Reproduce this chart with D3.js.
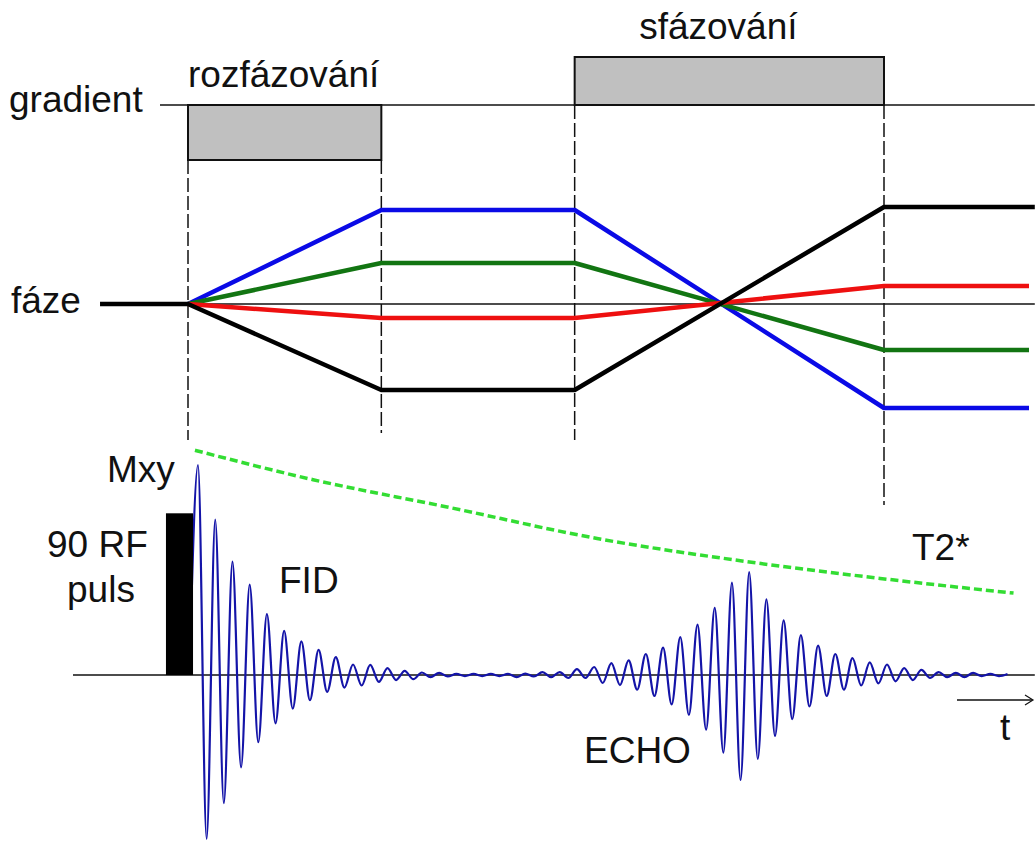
<!DOCTYPE html>
<html>
<head>
<meta charset="utf-8">
<script src="https://cdn.jsdelivr.net/npm/d3@7"></script>
<style>
  body { margin: 0; background: #fff; }
  text { font-family: "Liberation Sans", Arial, sans-serif; font-size: 37px; fill: #111; }
</style>
</head>
<body>
<svg id="chart" width="1035" height="850"></svg>
<script>
// gradient lobes (time units, amplitude)
const gradStart = [0, 20];
const gradEnd = [10, 36];
const gradAmp = [-55, 48];
const gradLabels = ["rozfázování", "sfázování"];

// phase of four spins at the switching times
const phaseTimes = [0, 10, 20, 36, 43.5];
const phaseBlue = [0, 94, 94, -104, -104];
const phaseGreen = [0, 41, 41, -46, -46];
const phaseRed = [0, -14, -14, 18, 18];
const phaseBlackTimes = [-4.55, 0, 10, 20, 36, 43.8];
const phaseBlack = [0, 0, -86, -86, 97, 97];

// signal extrema (FID + echo), evenly spaced samples
const signalStart = 0.072, signalEnd = 42.39;
const signalValues = [
  0, 100, -78, 74, -61, 54, -44, 43, -32, 29, -23, 21, -16, 16, -12, 12, -8, 8.5, -6, 5,
  -5, 4.8, -3.3, 3.3, -2.4, 2, -2, 1.2, -1, 1, -0.7, 0.5, -0.5, 0.5, -0.5, 0.5, -0.5, 0.5,
  -1, 0.7, -0.7, 1.4, -1, 1.4, -1.4, 2.8, -1.4, 3.8, -3.8, 5.7, -4.8, 7, -7, 10, -10, 13,
  -14, 18, -19, 24, -26, 32, -37, 44, -50, 49, -40, 36, -29, 26, -21, 19, -15, 14, -10, 10,
  -7, 8, -5, 6, -4, 5, -3, 3.3, -2.4, 2.4, -1.4, 1.4, -1, 1, -1, 1, -0.5, 0.5, -0.5, 0.5
];

// T2* envelope
const envTimes = [0.36, 6.47, 13.4, 21.16, 28.9, 35.8, 42.7];
const envValues = [107, 93, 80, 65, 54, 46, 39];

// 90 RF pulse
const rfStart = -1.14, rfEnd = 0.26, rfAmp = 77;

const svg = d3.select("#chart");

// scales
const x = d3.scaleLinear().domain([0, 36]).range([188, 884]);
const yGrad = d3.scaleLinear().domain([-55, 48]).range([160, 57]);
const yPhase = d3.scaleLinear().domain([-100, 100]).range([404, 204]);
const ySig = d3.scaleLinear().domain([-100, 100]).range([885, 465]);
const sampleT = d3.scaleLinear().domain([0, signalValues.length - 1]).range([signalStart, signalEnd]);

// ---- gradient row ----
svg.append("line")
  .attr("x1", x(-1.45)).attr("x2", x(43.8))
  .attr("y1", yGrad(0)).attr("y2", yGrad(0))
  .attr("stroke", "#111").attr("stroke-width", 1.5);

svg.selectAll(".lobe")
  .data(gradAmp)
  .join("rect")
  .attr("class", "lobe")
  .attr("x", (d, i) => x(gradStart[i]))
  .attr("width", (d, i) => x(gradEnd[i]) - x(gradStart[i]))
  .attr("y", d => Math.min(yGrad(0), yGrad(d)))
  .attr("height", d => Math.abs(yGrad(d) - yGrad(0)))
  .attr("fill", "#c0c0c0")
  .attr("stroke", "#111")
  .attr("stroke-width", 2);

svg.append("text").attr("x", x(gradStart[0])).attr("y", 87).text(gradLabels[0]);
svg.append("text").attr("x", x((gradStart[1] + gradEnd[1]) / 2) - 11).attr("y", 39)
  .attr("text-anchor", "middle").text(gradLabels[1]);
svg.append("text").attr("x", 9).attr("y", 112).text("gradient");

// dashed guides
const guideTimes = [0, 10, 20, 36];
const guideBottom = [440, 433, 440, 505];
svg.selectAll(".guide")
  .data(guideTimes)
  .join("line")
  .attr("class", "guide")
  .attr("x1", d => x(d)).attr("x2", d => x(d))
  .attr("y1", (d, i) => i < 2 ? yGrad(gradAmp[0]) : yGrad(0))
  .attr("y2", (d, i) => guideBottom[i])
  .attr("stroke", "#111").attr("stroke-width", 1.5)
  .attr("stroke-dasharray", "14,4");

// ---- phase row ----
svg.append("line")
  .attr("x1", x(0)).attr("x2", x(43.8))
  .attr("y1", yPhase(0)).attr("y2", yPhase(0))
  .attr("stroke", "#111").attr("stroke-width", 1.5);

const phaseLine = d3.line().x(d => x(d[0])).y(d => yPhase(d[1]));
const phaseSeries = [
  { color: "#0a0ae6", times: phaseTimes, vals: phaseBlue },
  { color: "#127512", times: phaseTimes, vals: phaseGreen },
  { color: "#ee1010", times: phaseTimes, vals: phaseRed },
  { color: "#000", times: phaseBlackTimes, vals: phaseBlack }
];
phaseSeries.forEach(s => {
  svg.append("path")
    .datum(s.times.map((t, i) => [t, s.vals[i]]))
    .attr("fill", "none")
    .attr("stroke", s.color)
    .attr("stroke-width", 4.5)
    .attr("stroke-linejoin", "round")
    .attr("d", phaseLine);
});
svg.append("text").attr("x", 11).attr("y", 313).text("fáze");

// ---- signal row ----
svg.append("line")
  .attr("x1", x(-5.95)).attr("x2", x(43.8))
  .attr("y1", ySig(0)).attr("y2", ySig(0))
  .attr("stroke", "#111").attr("stroke-width", 1.5);

const sigLine = d3.line()
  .x((d, i) => x(sampleT(i)))
  .y(d => ySig(d))
  .curve(d3.curveMonotoneX);
svg.append("path")
  .datum(signalValues)
  .attr("fill", "none")
  .attr("stroke", "#1414a8")
  .attr("stroke-width", 2.2)
  .attr("d", sigLine);

svg.append("rect")
  .attr("x", x(rfStart))
  .attr("width", x(rfEnd) - x(rfStart))
  .attr("y", ySig(rfAmp))
  .attr("height", ySig(0) - ySig(rfAmp))
  .attr("fill", "#000");

const envLine = d3.line().x(d => x(d[0])).y(d => ySig(d[1])).curve(d3.curveMonotoneX);
svg.append("path")
  .datum(envTimes.map((t, i) => [t, envValues[i]]))
  .attr("fill", "none")
  .attr("stroke", "#33dd33")
  .attr("stroke-width", 3.5)
  .attr("stroke-dasharray", "8,4")
  .attr("d", envLine);

// time arrow
svg.append("line")
  .attr("x1", 957).attr("x2", 1032).attr("y1", 700).attr("y2", 700)
  .attr("stroke", "#111").attr("stroke-width", 1.5);
svg.append("path")
  .attr("d", "M1025,695 L1033,700 L1025,705")
  .attr("fill", "none").attr("stroke", "#111").attr("stroke-width", 1.2);

svg.append("text").attr("x", 107).attr("y", 482).text("Mxy");
svg.append("text").attr("x", 47).attr("y", 557).text("90 RF");
svg.append("text").attr("x", 67).attr("y", 602).text("puls");
svg.append("text").attr("x", 279).attr("y", 593).text("FID");
svg.append("text").attr("x", 584).attr("y", 763).text("ECHO");
svg.append("text").attr("x", 912).attr("y", 560).text("T2*");
svg.append("text").attr("x", 1000).attr("y", 740).text("t");
</script>
</body>
</html>
